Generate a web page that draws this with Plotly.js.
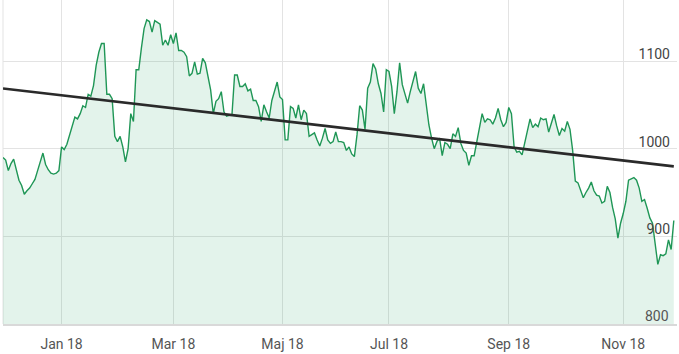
<!DOCTYPE html>
<html>
<head>
<meta charset="utf-8">
<script src="https://cdn.plot.ly/plotly-3.0.1.min.js"></script>
<style>html,body{margin:0;padding:0;background:#fff;}#chart{width:679px;height:354px;}</style>
</head>
<body>
<div id="chart"></div>
<script>
// Trading-day closing prices, 2017-11-28 .. 2018-11-28
const prices = [
  990, 987, 975, 983, 988, 977, 964, 958, 948, 952, 955, 960, 965, 975, 985, 995, 982, 976, 972, 971, 972, 975,
  1002, 999, 1005, 1015, 1027, 1036, 1034, 1040, 1049, 1047, 1062, 1060, 1072, 1095, 1110, 1120, 1120, 1062, 1062, 1057,
  1014, 1008, 1014, 1002, 985, 1000, 1040, 1031, 1090, 1090, 1115, 1137, 1147, 1145, 1133, 1146, 1144, 1142, 1118, 1124, 1118, 1130,
  1120, 1132, 1112, 1112, 1110, 1105, 1083, 1086, 1099, 1085, 1086, 1103, 1098, 1083, 1067, 1040, 1054, 1057,
  1065, 1042, 1037, 1038, 1038, 1084, 1084, 1071, 1071, 1074, 1066, 1068, 1055, 1055, 1048, 1031, 1050, 1042, 1035, 1055,
  1065, 1076, 1059, 1056, 1010, 1010, 1048, 1046, 1035, 1050, 1033, 1044, 1040, 1014, 1016, 1018, 1010, 1003, 1012, 1023,
  1010, 1006, 1008, 1019, 1008, 1008, 1007, 998, 1002, 994, 991, 1016, 1049, 1044, 1022, 1069, 1076, 1097, 1091, 1074,
  1063, 1042, 1090, 1088, 1071, 1040, 1065, 1098, 1073, 1063, 1052, 1065, 1076, 1088, 1069, 1063, 1074, 1052, 1027, 1012,
  1000, 1008, 1012, 992, 1007, 1005, 1000, 1017, 1014, 1024, 1006, 998, 995, 981, 992, 992, 1009, 1026, 1040, 1030,
  1034, 1033, 1028, 1035, 1046, 1033, 1025, 1030, 1047, 1040, 1002, 996, 997, 993, 1006, 1021, 1034, 1024, 1028, 1025,
  1035, 1033, 1034, 1019, 1028, 1039, 1026, 1015, 1023, 1020, 1031, 1022, 998, 963, 961, 953, 944, 950, 955, 962,
  952, 947, 946, 938, 940, 957, 950, 933, 920, 898, 915, 926, 940, 964, 966, 967, 964, 955, 940, 942,
  932, 921, 915, 893, 868, 879, 878, 880, 896, 885, 918
];

// Trend line end values
const trendValues = [1068.7, 979.8];

// Month tick dates and labels
const tickDates = ['2018-01-02', '2018-03-01', '2018-05-02', '2018-07-02', '2018-09-03', '2018-11-01'];
const tickLabels = ['Jan 18', 'Mar 18', 'Maj 18', 'Jul 18', 'Sep 18', 'Nov 18'];
const yTicks = [800, 900, 1000, 1100];
const yMin = 800;

const startDate = '2017-11-28';
const holidays = ['2017-12-25', '2017-12-26', '2018-01-01', '2018-03-30', '2018-04-02',
  '2018-05-01', '2018-05-10', '2018-06-06', '2018-06-22'];

function tradingDays(start, n) {
  const d = new Date(start + 'T00:00:00Z');
  const out = [];
  while (out.length < n) {
    const dow = d.getUTCDay();
    const s = d.toISOString().slice(0, 10);
    if (dow !== 0 && dow !== 6 && holidays.indexOf(s) < 0) out.push(s);
    d.setUTCDate(d.getUTCDate() + 1);
  }
  return out;
}

const dates = tradingDays(startDate, prices.length);

const traces = [
  {
    x: dates, y: prices, type: 'scatter', mode: 'lines',
    line: {color: '#1f9656', width: 1.4},
    fill: 'tozeroy', fillcolor: 'rgba(40,160,100,0.13)',
    hoverinfo: 'skip'
  },
  {
    x: [dates[0], dates[dates.length - 1]], y: trendValues, type: 'scatter', mode: 'lines',
    line: {color: '#2a2a2a', width: 2.6},
    hoverinfo: 'skip'
  }
];

const layout = {
  width: 679, height: 354,
  margin: {l: 3, r: 2, t: 0, b: 30},
  paper_bgcolor: '#ffffff', plot_bgcolor: '#ffffff',
  showlegend: false,
  font: {family: 'Roboto, "Open Sans", sans-serif', size: 14, color: '#555555'},
  xaxis: {
    type: 'category',
    categoryorder: 'array', categoryarray: dates,
    range: [0, 253.2],
    tickvals: tickDates, ticktext: tickLabels,
    showgrid: true, gridcolor: '#e3e3e3', gridwidth: 1,
    showline: true, linecolor: '#d9d9d9', linewidth: 1.5,
    ticks: '', ticklabelstandoff: 7,
    zeroline: false, fixedrange: true
  },
  yaxis: {
    side: 'right',
    range: [yMin, 1169.6],
    tickvals: yTicks,
    ticklabelposition: 'inside',
    ticklabelshift: -7,
    ticklabelstandoff: 4,
    showgrid: true, gridcolor: '#e3e3e3', gridwidth: 1,
    zeroline: false, showline: false, ticks: '', fixedrange: true
  },
  annotations: [
    {xref: 'paper', yref: 'y', x: 1, y: yMin, text: String(yMin), showarrow: false,
     xanchor: 'right', yanchor: 'middle', xshift: -6, yshift: 8,
     font: {family: 'Roboto, "Open Sans", sans-serif', size: 14, color: '#555555'}}
  ],
  shapes: [
    {type: 'line', xref: 'paper', yref: 'paper', x0: 0, x1: 0, y0: 0, y1: 1,
     line: {color: '#e3e3e3', width: 1}, layer: 'below'}
  ]
};

Plotly.newPlot('chart', traces, layout, {displayModeBar: false, staticPlot: true});
</script>
</body>
</html>
